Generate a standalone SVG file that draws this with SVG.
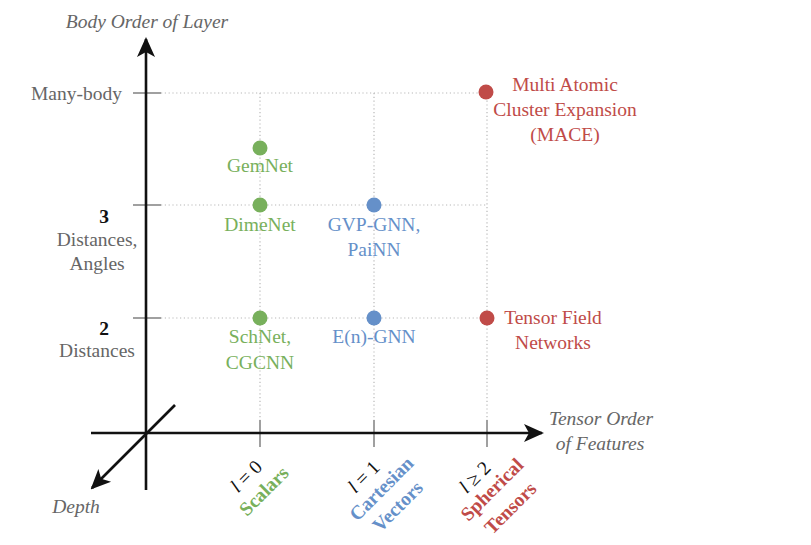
<svg xmlns="http://www.w3.org/2000/svg" width="811" height="545" viewBox="0 0 811 545">
<style>
text{font-family:"Liberation Serif","Times New Roman",serif;font-size:19.5px}
.ax{fill:#666;font-style:italic}
.lab{fill:#666}
.num{fill:#111;font-weight:bold}
.g{fill:#78b05c}
.b{fill:#6590c9}
.r{fill:#c04b48}
.bold{font-weight:bold}
.grid{stroke:#b8b8b8;stroke-width:1.2;stroke-dasharray:1.2 2.6;fill:none}
.tick{stroke:#a0a0a0;stroke-width:2}
.axis{stroke:#111;stroke-width:2.6;fill:none}
.math{fill:#111}
</style>
<defs>
<marker id="ah2" viewBox="0 0 10 10" refX="9" refY="5" markerWidth="20" markerHeight="20" markerUnits="userSpaceOnUse" orient="auto">
<path d="M0,0.5 L10,5 L0,9.5 L2.5,5 Z" fill="#111"/>
</marker>
</defs>
<g id="grid">
<path class="grid" d="M161,93 H487 M161,205 H487 M161,318 H487 M260,93 V420 M374,93 V420 M487,93 V420"/>
</g>
<g id="connectors">
<line class="tick" x1="133" y1="93" x2="161" y2="93"/>
<line class="tick" x1="133" y1="205" x2="161" y2="205"/>
<line class="tick" x1="133" y1="318" x2="161" y2="318"/>
<line class="tick" x1="260" y1="420" x2="260" y2="447"/>
<line class="tick" x1="374" y1="420" x2="374" y2="447"/>
<line class="tick" x1="487" y1="420" x2="487" y2="447"/>
<line class="axis" x1="146" y1="490" x2="146" y2="39" marker-end="url(#ah2)"/>
<line class="axis" x1="91" y1="433" x2="542" y2="433" marker-end="url(#ah2)"/>
<line class="axis" x1="175" y1="405" x2="92" y2="488" marker-end="url(#ah2)"/>
</g>
<g id="axis-labels">
<text class="ax" x="147" y="28" text-anchor="middle">Body Order of Layer</text>
<text class="ax" x="601" y="425" text-anchor="middle">Tensor Order</text>
<text class="ax" x="600" y="450" text-anchor="middle">of Features</text>
<text class="ax" x="76" y="513" text-anchor="middle">Depth</text>
</g>
<g id="y-labels">
<text class="lab" x="122" y="100" text-anchor="end">Many-body</text>
<text class="num" x="104" y="223" text-anchor="middle">3</text>
<text class="lab" x="97" y="246" text-anchor="middle">Distances,</text>
<text class="lab" x="97" y="270" text-anchor="middle">Angles</text>
<text class="num" x="104" y="335" text-anchor="middle">2</text>
<text class="lab" x="97" y="357" text-anchor="middle">Distances</text>
</g>
<g id="x-l0" transform="translate(246.5,476.5) rotate(-45)">
<text class="math" x="0" y="6" text-anchor="middle"><tspan font-style="italic">l</tspan> = 0</text>
<text class="g bold" x="2" y="29" text-anchor="middle">Scalars</text>
</g>
<g id="x-l1" transform="translate(364,477) rotate(-45)">
<text class="math" x="0" y="6" text-anchor="middle"><tspan font-style="italic">l</tspan> = 1</text>
<text class="b bold" x="4" y="27" text-anchor="middle">Cartesian</text>
<text class="b bold" x="3" y="51" text-anchor="middle">Vectors</text>
</g>
<g id="x-l2" transform="translate(475,477.5) rotate(-45)">
<text class="math" x="0" y="6" text-anchor="middle"><tspan font-style="italic">l</tspan> ≥ 2</text>
<text class="r bold" x="3.5" y="27" text-anchor="middle">Spherical</text>
<text class="r bold" x="3.5" y="53" text-anchor="middle">Tensors</text>
</g>
<g id="gemnet">
<circle class="g" cx="260" cy="148" r="7.5"/>
<text class="g" x="260" y="172" text-anchor="middle">GemNet</text>
</g>
<g id="dimenet">
<circle class="g" cx="260" cy="205" r="7.5"/>
<text class="g" x="260" y="231" text-anchor="middle">DimeNet</text>
</g>
<g id="schnet">
<circle class="g" cx="260" cy="318" r="7.5"/>
<text class="g" x="260" y="343" text-anchor="middle">SchNet,</text>
<text class="g" x="260" y="369" text-anchor="middle">CGCNN</text>
</g>
<g id="gvp">
<circle class="b" cx="374" cy="205" r="7.5"/>
<text class="b" x="374" y="231" text-anchor="middle">GVP-GNN,</text>
<text class="b" x="374" y="256" text-anchor="middle">PaiNN</text>
</g>
<g id="egnn">
<circle class="b" cx="374" cy="318" r="7.5"/>
<text class="b" x="374" y="343" text-anchor="middle">E(n)-GNN</text>
</g>
<g id="mace">
<circle class="r" cx="486" cy="92" r="7.5"/>
<text class="r" x="565" y="91" text-anchor="middle">Multi Atomic</text>
<text class="r" x="565" y="116" text-anchor="middle">Cluster Expansion</text>
<text class="r" x="565" y="141" text-anchor="middle">(MACE)</text>
</g>
<g id="tfn">
<circle class="r" cx="487" cy="318" r="7.5"/>
<text class="r" x="553" y="324" text-anchor="middle">Tensor Field</text>
<text class="r" x="553" y="349" text-anchor="middle">Networks</text>
</g>
</svg>
